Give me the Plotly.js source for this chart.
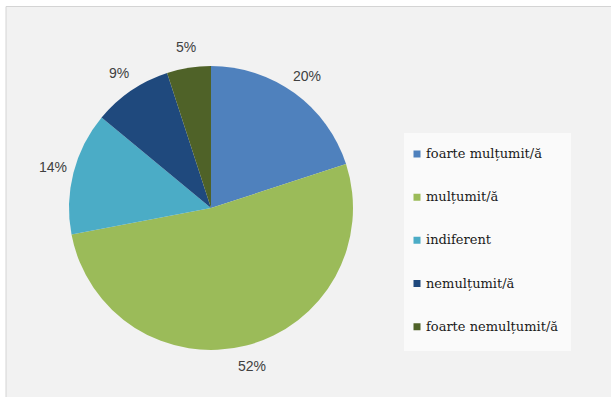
<!DOCTYPE html>
<html>
<head>
<meta charset="utf-8">
<script src="https://cdn.plot.ly/plotly-3.0.1.min.js"></script>
<style>
html,body{margin:0;padding:0;background:#ffffff;}
#chart{width:611px;height:397px;}
</style>
</head>
<body>
<div id="chart"></div>
<script>
const categories = ["foarte mulțumit/ă", "mulțumit/ă", "indiferent", "nemulțumit/ă", "foarte nemulțumit/ă"];
const percentValues = [20, 52, 14, 9, 5];
const sliceColors = ["#4F81BD", "#9BBB59", "#4BACC6", "#1F497D", "#4F6228"];

const W = 611, H = 397;
// pie geometry (pixels)
const cx = 211, cy = 208, R = 142, labelR = 163;

// legend labels padded with blank lines to reproduce the wide row spacing
const legendLabels = categories.map(c => " <br><span style=\"font-size:13px\">" + c + "</span><br> ");

const trace = {
  type: "pie",
  labels: legendLabels,
  values: percentValues,
  sort: false,
  direction: "clockwise",
  rotation: 0,
  marker: {colors: sliceColors, line: {width: 0}},
  textinfo: "none",
  hoverinfo: "skip",
  domain: {x: [(cx - R) / W, (cx + R) / W], y: [1 - (cy + R) / H, 1 - (cy - R) / H]},
  automargin: false
};

// percentage labels placed outside each slice at its mid angle
const total = percentValues.reduce((a, b) => a + b, 0);
let cum = 0;
const annotations = percentValues.map(v => {
  const mid = (cum + v / 2) / total * 2 * Math.PI;
  cum += v;
  const px = cx + labelR * Math.sin(mid);
  const py = cy - labelR * Math.cos(mid);
  return {
    xref: "paper", yref: "paper",
    x: px / W, y: 1 - py / H,
    xanchor: "center", yanchor: "middle",
    text: v + "%", showarrow: false,
    font: {family: "Liberation Sans, Arial, sans-serif", size: 14, color: "#404040"}
  };
});

const layout = {
  width: W,
  height: H,
  margin: {l: 0, r: 0, t: 0, b: 0},
  paper_bgcolor: "#ffffff",
  showlegend: true,
  legend: {
    x: 386 / W,
    xanchor: "left",
    y: 1 - 127.4 / H,
    yanchor: "top",
    bgcolor: "rgba(0,0,0,0)",
    borderwidth: 0,
    font: {family: "DejaVu Serif, serif", size: 10.3, color: "#1a1a1a"},
    traceorder: "normal"
  },
  annotations: annotations,
  shapes: [
    {type: "rect", xref: "paper", yref: "paper", layer: "below",
     x0: 6 / W, x1: 1.05, y0: -0.05, y1: 1 - 6.5 / H,
     fillcolor: "#F2F2F2", line: {color: "#D4D4D4", width: 1}},
    {type: "rect", xref: "paper", yref: "paper", layer: "below",
     x0: 404 / W, x1: 571 / W, y0: 1 - 351 / H, y1: 1 - 133 / H,
     fillcolor: "#FAFAFA", line: {width: 0}}
  ]
};

function tweakLegend() {
  document.querySelectorAll("#chart .legend .legendpoints path").forEach(p => {
    p.setAttribute("d", "M14.5,3.5H7.5V-3.5H14.5Z");
  });
}

const gd = document.getElementById("chart");
Plotly.newPlot(gd, [trace], layout, {staticPlot: true, displayModeBar: false}).then(() => {
  tweakLegend();
  gd.on("plotly_afterplot", tweakLegend);
});
</script>
</body>
</html>
